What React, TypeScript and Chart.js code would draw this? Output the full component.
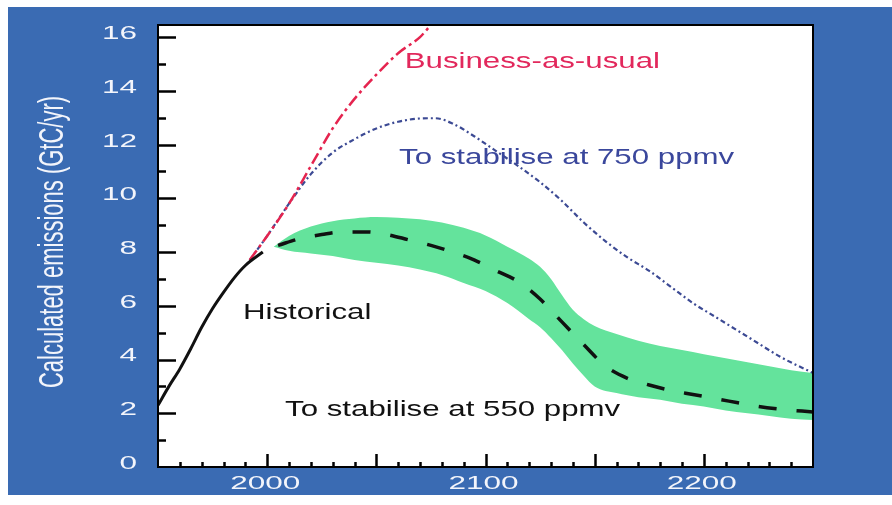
import React, { useEffect, useRef } from 'react';
import { Chart, registerables } from 'chart.js';

Chart.register(...registerables);

// ---- Data (years, GtC/yr) ----
const historicalYears = [1950, 1955, 1960, 1965, 1970, 1975, 1980, 1985, 1990, 1998];
const historicalValues = [2.3, 3.0, 3.65, 4.4, 5.2, 5.9, 6.5, 7.05, 7.5, 8.0];

const bauYears = [1992, 2000, 2010, 2020, 2030, 2040, 2050, 2060, 2070, 2075];
const bauValues = [7.7, 8.6, 9.8, 11.2, 12.6, 13.7, 14.6, 15.4, 16.0, 16.45];

const s750Years = [1992, 2000, 2010, 2020, 2030, 2040, 2050, 2060, 2070, 2077, 2085, 2095, 2105, 2115, 2125, 2135, 2145, 2155, 2165, 2175, 2185, 2195, 2205, 2215, 2225, 2235, 2250];
const s750Values = [7.7, 8.6, 9.8, 10.9, 11.7, 12.2, 12.6, 12.85, 12.97, 12.98, 12.78, 12.3, 11.75, 11.2, 10.6, 9.9, 9.1, 8.4, 7.8, 7.3, 6.7, 6.1, 5.6, 5.1, 4.6, 4.1, 3.5];

const s550Years = [2005, 2015, 2025, 2035, 2045, 2055, 2065, 2075, 2085, 2095, 2105, 2115, 2125, 2135, 2145, 2155, 2165, 2175, 2185, 2195, 2205, 2215, 2225, 2235, 2250];
const s550Values = [8.25, 8.5, 8.65, 8.75, 8.75, 8.65, 8.45, 8.25, 8.0, 7.7, 7.3, 6.9, 6.25, 5.4, 4.55, 3.75, 3.3, 3.05, 2.85, 2.7, 2.55, 2.4, 2.25, 2.15, 2.05];

const bandYears = [2003, 2010, 2020, 2030, 2040, 2050, 2060, 2070, 2080, 2090, 2100, 2110, 2120, 2125, 2130, 2135, 2140, 2145, 2150, 2160, 2170, 2180, 2190, 2200, 2210, 2220, 2230, 2240, 2250];
const bandUpper = [8.2, 8.6, 8.95, 9.15, 9.25, 9.3, 9.28, 9.22, 9.1, 8.9, 8.62, 8.2, 7.75, 7.45, 7.0, 6.4, 5.85, 5.5, 5.25, 4.95, 4.7, 4.5, 4.35, 4.2, 4.05, 3.9, 3.75, 3.6, 3.5];
const bandLower = [8.2, 8.05, 7.95, 7.85, 7.7, 7.6, 7.5, 7.35, 7.15, 6.85, 6.55, 6.1, 5.5, 5.2, 4.8, 4.35, 3.85, 3.4, 3.0, 2.75, 2.6, 2.5, 2.35, 2.25, 2.1, 2.0, 1.9, 1.8, 1.75];

// ---- Axis labels ----
const yTickLabels = ['0', '2', '4', '6', '8', '10', '12', '14', '16'];
const xTickLabels = ['2000', '2100', '2200'];
const yAxisTitle = 'Calculated emissions (GtC/yr)';

// ---- In-plot annotations (anchored in data coordinates) ----
const annotationTexts = ['Business-as-usual', 'To stabilise at 750 ppmv', 'Historical', 'To stabilise at 550 ppmv'];
const annotationYears = [2063, 2060.4, 1988.9, 2008.2];
const annotationValues = [15.06, 11.52, 5.72, 2.12];
const annotationColors = ['#e2285c', '#3a479c', '#111111', '#111111'];

const BG = '#3a6bb3';
const FONT = 'Arial, "Liberation Sans", sans-serif';

const pts = (xs: number[], ys: number[]) => xs.map((x, i) => ({ x, y: ys[i] }));

function stretched(ctx: CanvasRenderingContext2D, text: string, x: number, y: number, sx: number, align: CanvasTextAlign) {
  ctx.save();
  ctx.translate(x, y);
  ctx.scale(sx, 1);
  ctx.textAlign = align;
  ctx.fillText(text, 0, 0);
  ctx.restore();
}

const framePlugin = {
  id: 'frame',
  beforeDraw(chart: any) {
    const { ctx, chartArea: a, width, height } = chart;
    ctx.save();
    ctx.fillStyle = BG;
    ctx.fillRect(0, 0, width, height);
    ctx.fillStyle = '#ffffff';
    ctx.fillRect(a.left, a.top, a.right - a.left, a.bottom - a.top);
    ctx.restore();
  },
  afterDraw(chart: any) {
    const { ctx, chartArea: a } = chart;
    const xs = chart.scales.x;
    const ys = chart.scales.y;
    ctx.save();
    ctx.setLineDash([]);
    ctx.globalAlpha = 1;
    // frame
    ctx.strokeStyle = '#000000';
    ctx.lineWidth = 2;
    ctx.beginPath();
    ctx.moveTo(a.left, a.top);
    ctx.lineTo(a.right, a.top);
    ctx.lineTo(a.right, a.bottom);
    ctx.lineTo(a.left, a.bottom);
    ctx.closePath();
    ctx.stroke();
    // y ticks (inside)
    ctx.lineWidth = 2.5;
    for (let v = 1; v <= 16; v++) {
      const py = Math.round(ys.getPixelForValue(v)) + 0.5;
      const len = v % 2 === 0 ? 18 : 8;
      ctx.beginPath();
      ctx.moveTo(a.left, py);
      ctx.lineTo(a.left + len, py);
      ctx.stroke();
    }
    // x ticks (inside)
    for (let yr = 1960; yr < 2250; yr += 10) {
      const px = Math.round(xs.getPixelForValue(yr)) + 0.5;
      const len = yr % 50 === 0 ? 13 : 5;
      ctx.beginPath();
      ctx.moveTo(px, a.bottom);
      ctx.lineTo(px, a.bottom - len);
      ctx.stroke();
    }
    // tick labels
    ctx.fillStyle = '#f3f5fb';
    ctx.font = `18px ${FONT}`;
    ctx.textBaseline = 'middle';
    yTickLabels.forEach((t) => {
      const py = ys.getPixelForValue(Number(t)) - 3;
      stretched(ctx, t, a.left - 21, py, 1.75, 'right');
    });
    xTickLabels.forEach((t) => {
      const px = xs.getPixelForValue(Number(t)) - 2;
      stretched(ctx, t, px, a.bottom + 17, 1.75, 'center');
    });
    // axis title
    ctx.save();
    ctx.font = `22px ${FONT}`;
    ctx.textAlign = 'center';
    ctx.textBaseline = 'alphabetic';
    ctx.translate(55, (a.top + a.bottom) / 2 - 4);
    ctx.scale(1.6, 1);
    ctx.rotate(-Math.PI / 2);
    ctx.fillText(yAxisTitle, 0, 0);
    ctx.restore();
    // annotations
    ctx.font = `22px ${FONT}`;
    ctx.textBaseline = 'middle';
    annotationTexts.forEach((t, i) => {
      ctx.fillStyle = annotationColors[i];
      stretched(ctx, t, xs.getPixelForValue(annotationYears[i]), ys.getPixelForValue(annotationValues[i]), 1.42, 'left');
    });
    ctx.restore();
  },
};

export default function App() {
  const ref = useRef<HTMLCanvasElement>(null);
  useEffect(() => {
    const canvas = ref.current!;
    const chart = new Chart(canvas, {
      type: 'line',
      data: {
        datasets: [
          {
            label: 'Historical',
            data: pts(historicalYears, historicalValues),
            borderColor: '#111',
            borderWidth: 3,
            fill: false,
            order: 0,
            cubicInterpolationMode: 'monotone',
          },
          {
            label: 'Business-as-usual',
            data: pts(bauYears, bauValues),
            borderColor: '#e5244f',
            borderWidth: 2.5,
            borderDash: [12, 4, 3, 4],
            fill: false,
            order: 1,
            cubicInterpolationMode: 'monotone',
          },
          {
            label: 'To stabilise at 750 ppmv',
            data: pts(s750Years, s750Values),
            borderColor: '#3c4a94',
            borderWidth: 2.2,
            borderDash: [5, 3, 2, 3],
            fill: false,
            order: 2,
            cubicInterpolationMode: 'monotone',
          },
          {
            label: 'To stabilise at 550 ppmv',
            data: pts(s550Years, s550Values),
            borderColor: '#111',
            borderWidth: 3.5,
            borderDash: [18, 20],
            fill: false,
            order: 3,
            cubicInterpolationMode: 'monotone',
          },
          {
            label: '550 range lower',
            data: pts(bandYears, bandLower),
            borderColor: 'rgba(0,0,0,0)',
            borderWidth: 0,
            fill: false,
            order: 5,
            cubicInterpolationMode: 'monotone',
          },
          {
            label: '550 range upper',
            data: pts(bandYears, bandUpper),
            borderColor: 'rgba(0,0,0,0)',
            backgroundColor: '#64e39c',
            borderWidth: 0,
            fill: '-1',
            order: 4,
            cubicInterpolationMode: 'monotone',
          },
        ],
      },
      options: {
        responsive: false,
        maintainAspectRatio: false,
        animation: false,
        layout: { padding: { top: 18, right: 79, left: 0, bottom: 0 } },
        elements: { point: { radius: 0 } },
        plugins: {
          legend: { display: false },
          tooltip: { enabled: false },
          filler: { drawTime: 'beforeDatasetsDraw' },
        },
        scales: {
          x: {
            type: 'linear',
            min: 1950,
            max: 2250,
            grid: { display: false },
            border: { display: false },
            ticks: { display: false },
            afterFit: (s: any) => { s.height = 28; },
          },
          y: {
            type: 'linear',
            min: 0,
            max: 16.45,
            grid: { display: false },
            border: { display: false },
            ticks: { display: false },
            afterFit: (s: any) => { s.width = 150; },
          },
        },
      } as any,
      plugins: [framePlugin],
    });
    return () => chart.destroy();
  }, []);
  return (
    <div style={{ position: 'absolute', left: 8, top: 7, width: 884, height: 488 }}>
      <canvas ref={ref} width={884} height={488} style={{ width: 884, height: 488, display: 'block' }} />
    </div>
  );
}
